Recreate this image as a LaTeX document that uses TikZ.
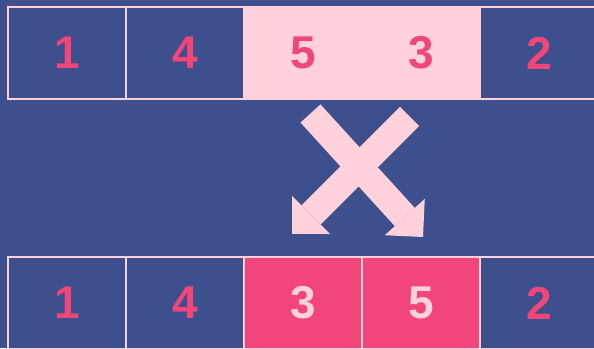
\documentclass[tikz,border=0pt]{standalone}
\usepackage{fontspec}
\setmainfont{Liberation Sans}
\usetikzlibrary{positioning, arrows.meta}
\definecolor{bgblue}{RGB}{61,79,140}
\definecolor{lightpink}{RGB}{255,209,218}
\definecolor{hotpink}{RGB}{242,69,122}

\begin{document}
\begin{tikzpicture}[x=1pt, y=1pt]
	\tikzset{
		cell/.style={draw=lightpink, line width=1.5pt, minimum width=118pt, minimum height=92pt, inner sep=0pt, text=hotpink, font=\fontsize{46}{46}\selectfont\bfseries},
		picked/.style={cell, fill=lightpink},
		swapped/.style={cell, fill=hotpink, text=lightpink},
		swap arrow/.style={lightpink, line width=27pt, -{Triangle[width=54pt, length=27pt, line width=0pt]}}
	}
	\useasboundingbox (0,0) rectangle (594,348);
	\fill[bgblue] (0,0) rectangle (594,348);
	\clip (0,0) rectangle (594,348);
	
	% 交换前
	\foreach \v/\s [count=\i] in {1/cell, 4/cell, 5/picked, 3/picked, 2/cell} {
		\node[\s] (t\i) at ({67+118*(\i-1)}, 295) {\v};
	}
	
	% 交换后
	\foreach \v/\s [count=\i] in {1/cell, 4/cell, 3/swapped, 5/swapped, 2/cell} {
		\node[\s] (b\i) at ({67+118*(\i-1)}, 45) {\v};
	}
	
	% 交叉箭头
	\coordinate (fromL) at (310.5, 234.5);
	\coordinate (toR) at (423, 111);
	\coordinate (fromR) at (409.5, 231.5);
	\coordinate (toL) at (292, 114);
	\draw[swap arrow] (fromL) -- (toR);
	\draw[swap arrow] (fromR) -- (toL);
\end{tikzpicture}
\end{document}
